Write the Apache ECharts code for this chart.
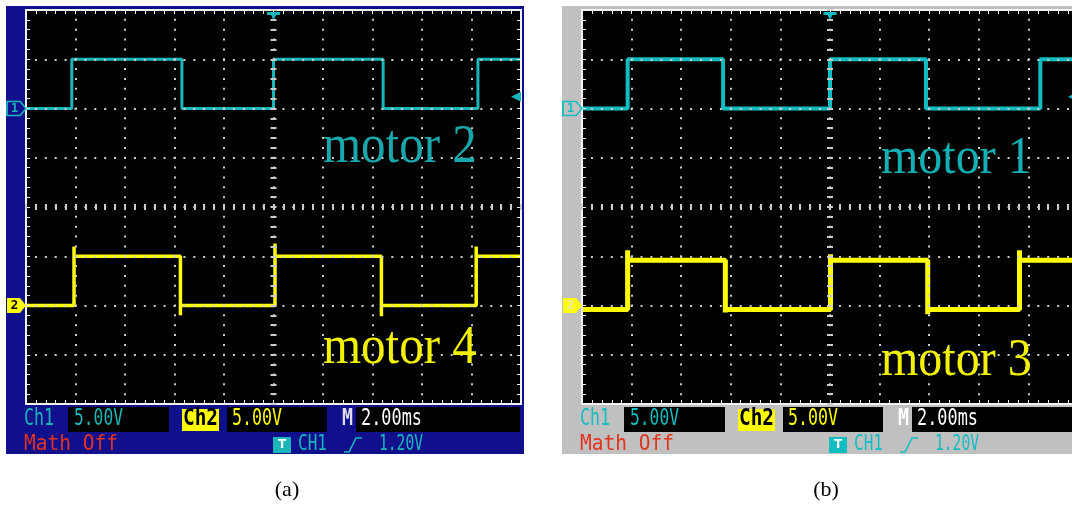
<!DOCTYPE html>
<html>
<head>
<meta charset="utf-8">
<title>motor PWM scope captures</title>
<script src="https://cdn.jsdelivr.net/npm/echarts@6/dist/echarts.min.js"></script>
<style>
  html, body { margin: 0; padding: 0; background: #fff; }
  #chart { width: 1072px; height: 507px; }
</style>
</head>
<body>
<div id="chart"></div>
<script>
// scope settings for both captures: 10 x 8 divisions, 2.00 ms/div, 5.00 V/div
const timeMin = -10, timeMax = 10, timeDiv = 2   // ms, trigger point at 0
const divMin = -4, divMax = 4
const voltsPerDiv = 5
const ch1RefDiv = 2, ch2RefDiv = -2              // ground markers "1" and "2"
const triggerLevel = 1.2                         // CH1 rising edge, 1.20 V

// edge times (ms), level (V) before the first edge and after each edge, overshoot (V) at each edge
const aCh1Edges = [-8.15, -3.70, 0, 4.43, 8.26]
const aCh1Levels = [0, 5, 0, 5, 0, 5]
const aCh1Spikes = [0, 0, 0, 0, 0]
const aCh2Edges = [-8.06, -3.76, 0.06, 4.36, 8.19]
const aCh2Levels = [0, 5, 0, 5, 0, 5]
const aCh2Spikes = [1.0, 1.0, 1.3, 1.1, 1.0]

const bCh1Edges = [-8.16, -4.31, 0, 3.87, 8.48]
const bCh1Levels = [0, 5, 0, 5, 0, 5]
const bCh1Spikes = [0, 0, 0, 0, 0]
const bCh2Edges = [-8.16, -4.22, 0.02, 3.94, 7.64]
const bCh2Levels = [-0.4, 4.6, -0.4, 4.6, -0.4, 4.6]
const bCh2Spikes = [1.0, 0.3, 0.6, 0.5, 1.0]

// status bar readouts
const ch1Scale = '5.00V'
const ch2Scale = '5.00V'
const timeScale = '2.00ms'
const mathState = 'Math Off'
const trigSource = 'CH1'
const trigLevelText = '1.20V'

const yellow = '#ffff00'
const borderColor = '#f2f2f2'
const dotColor = '#cccccc'

const panels = [
  {
    ox: 0, width: 495, frame: '#10108c', frameRight: 524, cyan: '#1ab6ba', label1: '#1aa7ac', tag2Text: '#000',
    mColor: '#dcdcec', caption: '(a)', captionX: 287,
    ch1: [aCh1Edges, aCh1Levels, aCh1Spikes], ch2: [aCh2Edges, aCh2Levels, aCh2Spikes], w1: 3, w2: 3.5,
    name1: 'motor 2', name2: 'motor 4', nameX: 323, name1Y: 166, name2Y: 367, nameSize: 49
  },
  {
    ox: 556, width: 496, frame: '#c0c0c0', frameRight: 1072, cyan: '#12bdc2', label1: '#12b0b4', tag2Text: '#ecebc0',
    mColor: '#ffffff', caption: '(b)', captionX: 826,
    ch1: [bCh1Edges, bCh1Levels, bCh1Spikes], ch2: [bCh2Edges, bCh2Levels, bCh2Spikes], w1: 4, w2: 5,
    name1: 'motor 1', name2: 'motor 3', nameX: 881, name1Y: 177, name2Y: 379, nameSize: 48
  }
]

const gridTop = 10, gridHeight = 394, gridLeft = 26

const tagPath = 'path://M0,0 L13,0 L19,7 L13,14 L0,14 Z'
const levelArrow = 'path://M10,0 L10,10 L0,5 Z'
const trigArrow = 'path://M0,0 L13,0 L13,3 L9,3 L6.5,8 L4,3 L0,3 Z'

function wave(edges, levels, spikes) {
  const pts = [[timeMin, levels[0]]]
  edges.forEach((t, i) => {
    const from = levels[i], to = levels[i + 1]
    pts.push([t, from])
    if (spikes[i]) pts.push([t, to + Math.sign(to - from) * spikes[i]])
    pts.push([t, to])
  })
  pts.push([timeMax, levels[levels.length - 1]])
  return pts
}

const option = {
  backgroundColor: '#ffffff',
  animation: false,
  grid: [],
  xAxis: [],
  yAxis: [],
  series: [],
  graphic: []
}

const ticks = (inside, len, color, w) => ({
  axisTick: { show: true, inside, length: len, lineStyle: { color, width: w } },
  minorTick: { show: true, splitNumber: 5, length: len, lineStyle: { color, width: w } }
})
const frameLine = { show: true, onZero: false, lineStyle: { color: borderColor, width: 2 } }
const noLine = { show: false, onZero: false }
const dots = gap => ({ show: true, lineStyle: { color: dotColor, width: 2, type: [2, gap - 2], dashOffset: 1 } })
const off = { show: false }

panels.forEach((p, gi) => {
  const width = p.width, height = gridHeight
  const minorX = width / ((timeMax - timeMin) / timeDiv) / 5
  const minorY = height / (divMax - divMin) / 5

  option.grid.push({
    left: p.ox + gridLeft, top: gridTop, width, height,
    show: true, backgroundColor: '#000', borderWidth: 0,
    containLabel: false, outerBoundsMode: 'none'
  })

  const xi = option.xAxis.length, yi = option.yAxis.length
  const xBase = { gridIndex: gi, type: 'value', min: timeMin, max: timeMax, interval: timeDiv, axisLabel: off, z: 3 }
  const yBase = { gridIndex: gi, type: 'value', min: divMin, max: divMax, interval: 1, axisLabel: off, z: 3 }

  option.xAxis.push(
    { ...xBase, position: 'bottom', axisLine: frameLine, ...ticks(true, 4, borderColor, 1), splitLine: dots(minorY) },
    { ...xBase, position: 'top', axisLine: frameLine, ...ticks(true, 4, borderColor, 1), splitLine: off },
    // centre graticule line, dashes on both sides
    { ...xBase, position: 'bottom', offset: -height / 2, axisLine: noLine, ...ticks(true, 3, dotColor, 2), splitLine: off },
    { ...xBase, position: 'bottom', offset: -height / 2, axisLine: noLine, ...ticks(false, 3, dotColor, 2), splitLine: off }
  )
  const ch1Max = (divMax - ch1RefDiv) * voltsPerDiv
  option.yAxis.push(
    { ...yBase, position: 'left', axisLine: frameLine, ...ticks(true, 4, borderColor, 1), splitLine: dots(minorX) },
    { ...yBase, position: 'right', axisLine: frameLine, ...ticks(true, 4, borderColor, 1), splitLine: off },
    { ...yBase, position: 'left', offset: -width / 2, axisLine: noLine, ...ticks(true, 3, dotColor, 2), splitLine: off },
    { ...yBase, position: 'left', offset: -width / 2, axisLine: noLine, ...ticks(false, 3, dotColor, 2), splitLine: off },
    { gridIndex: gi, type: 'value', show: false, min: (divMin - ch1RefDiv) * voltsPerDiv, max: ch1Max },
    { gridIndex: gi, type: 'value', show: false, min: (divMin - ch2RefDiv) * voltsPerDiv, max: (divMax - ch2RefDiv) * voltsPerDiv }
  )

  option.series.push({
    type: 'line', name: p.name1, xAxisIndex: xi, yAxisIndex: yi + 4,
    data: wave(...p.ch1), showSymbol: false, symbol: 'none', clip: false, silent: true, z: 2,
    lineStyle: { color: p.cyan, width: p.w1 },
    markPoint: {
      silent: true, animation: false,
      data: [
        {
          coord: [timeMin, 0], symbol: tagPath, symbolSize: [19, 14], symbolOffset: [-9.5, 0],
          itemStyle: { color: p.frame, borderColor: p.cyan, borderWidth: 1.5 },
          label: { show: true, formatter: '1', color: p.cyan, fontSize: 12, fontWeight: 'bold', fontFamily: 'DejaVu Sans Mono', offset: [-2, 0] }
        },
        {
          coord: [timeMax, triggerLevel], symbol: levelArrow, symbolSize: [10, 10], symbolOffset: [-5, 0],
          itemStyle: { color: p.cyan }, label: off
        },
        {
          coord: [0, ch1Max], symbol: trigArrow, symbolSize: [13, 8], symbolOffset: [0, 6],
          itemStyle: { color: p.cyan }, label: off
        }
      ]
    }
  })
  option.series.push({
    type: 'line', name: p.name2, xAxisIndex: xi, yAxisIndex: yi + 5,
    data: wave(...p.ch2), showSymbol: false, symbol: 'none', clip: false, silent: true, z: 2,
    lineStyle: { color: yellow, width: p.w2 },
    markPoint: {
      silent: true, animation: false,
      data: [{
        coord: [timeMin, 0], symbol: tagPath, symbolSize: [19, 15], symbolOffset: [-9.5, 0],
        itemStyle: { color: yellow },
        label: { show: true, formatter: '2', color: p.tag2Text, fontSize: 13, fontWeight: 'bold', fontFamily: 'DejaVu Sans Mono', offset: [-2, 0] }
      }]
    }
  })

  // scope frame
  option.graphic.push({ type: 'rect', z: -10, silent: true, shape: { x: p.ox + 6, y: 6, width: p.frameRight - p.ox - 6, height: 448 }, style: { fill: p.frame } })

  // trace names written on the screen (glyphs in the capture are a little taller than the font)
  const serif = s => `${s}px "Liberation Serif", "Times New Roman", serif`
  const nameText = (s, y, fill) => ({
    type: 'text', z: 20, silent: true, x: p.nameX, y: y - 0.34 * p.nameSize * 1.1, scaleY: 1.1,
    style: { text: s, fill, font: serif(p.nameSize), align: 'left', verticalAlign: 'middle' }
  })
  option.graphic.push(
    nameText(p.name1, p.name1Y, p.label1),
    nameText(p.name2, p.name2Y, '#f2f200'),
    { type: 'text', z: 20, silent: true, x: p.captionX, y: 490, style: { text: p.caption, fill: '#000', font: serif(22), align: 'center', verticalAlign: 'middle' } }
  )

  // status bar
  const X = v => p.ox + v
  const r1 = 419, r2 = 444.5
  const rect = (x, y, w, h, fill) => option.graphic.push({ type: 'rect', z: 5, silent: true, shape: { x: X(x), y, width: w, height: h }, style: { fill } })
  const text = (s, x, y, w, size, fill, weight) => option.graphic.push({
    type: 'text', z: 6, silent: true, x: X(x), y, scaleX: w / (s.length * 0.602 * size), scaleY: 1.08,
    style: { text: s, fill, font: `${weight || 'normal'} ${size}px "DejaVu Sans Mono"`, align: 'left', verticalAlign: 'middle' }
  })
  text('Ch1', 24, r1, 30, 22, p.cyan)
  rect(68, 407, 101, 25, '#000')
  text(ch1Scale, 74, r1, 49, 22, p.cyan)
  rect(182, 409, 37, 22, yellow)
  text('Ch2', 183, r1, 35, 22, '#000', 'bold')
  rect(227, 407, 100, 25, '#000')
  text(ch2Scale, 232, r1, 50, 22, yellow)
  text('M', 342, r1, 11, 22, p.mColor, 'bold')
  rect(356, 407, 164, 25, '#000')
  text(timeScale, 361, r1, 61, 22, '#ffffff')
  text(mathState, 24, r2, 94, 19, '#e4321e')
  rect(273, 437, 18, 16, p.cyan)
  option.graphic.push({ type: 'text', z: 7, silent: true, x: X(282), y: r2 + 0.5, style: { text: 'T', fill: '#fff', font: 'bold 12px "DejaVu Sans"', align: 'center', verticalAlign: 'middle' } })
  text(trigSource, 298, r2, 29, 19, p.cyan)
  option.graphic.push({
    type: 'polyline', z: 6, silent: true,
    shape: { points: [[X(344), 452], [X(349), 452], [X(356), 438], [X(362), 438]] },
    style: { stroke: p.cyan, lineWidth: 1.6, fill: null }
  })
  text(trigLevelText, 379, r2, 44, 19, p.cyan)
})

const chart = echarts.init(document.getElementById('chart'), null, { renderer: 'canvas' })
chart.setOption(option)
window.addEventListener('resize', () => chart.resize())
</script>
</body>
</html>
